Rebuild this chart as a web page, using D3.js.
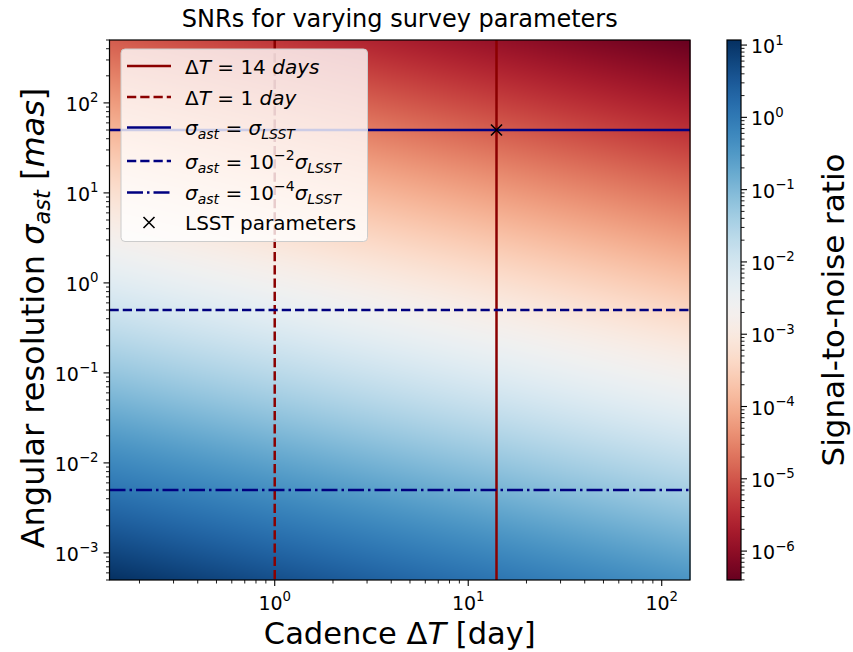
<!DOCTYPE html>
<html><head><meta charset="utf-8">
<script src="https://cdn.jsdelivr.net/npm/d3@7"></script>
<style>
body{margin:0;background:#fff}
svg{display:block}
text{font-family:"DejaVu Sans",sans-serif;white-space:pre;fill:#000}
</style>
</head><body>
<svg id="chart" width="853" height="652"></svg>
<script>
// ---- data ----
const cadenceGrid = [0.14, 0.44, 1.4, 4.4, 14, 44, 140];            // days (columns)
const sigmaGrid = [5e-4, 1.6e-3, 5e-3, 1.6e-2, 5e-2, 0.16, 0.5, 1.6, 5, 16, 50, 160, 500]; // mas (rows)
// log10(SNR) per sigma row (ascending) and cadence column
const logSNR = [
  [1.07, 0.82, 0.57, 0.32, 0.07, -0.18, -0.43],
  [0.57, 0.32, 0.07, -0.18, -0.43, -0.68, -0.93],
  [0.07, -0.18, -0.43, -0.68, -0.93, -1.18, -1.43],
  [-0.43, -0.68, -0.93, -1.18, -1.43, -1.68, -1.93],
  [-0.93, -1.18, -1.43, -1.68, -1.93, -2.18, -2.43],
  [-1.43, -1.68, -1.93, -2.18, -2.43, -2.68, -2.93],
  [-1.93, -2.18, -2.43, -2.68, -2.93, -3.18, -3.43],
  [-2.43, -2.68, -2.93, -3.18, -3.43, -3.68, -3.93],
  [-2.93, -3.18, -3.43, -3.68, -3.93, -4.18, -4.43],
  [-3.43, -3.68, -3.93, -4.18, -4.43, -4.68, -4.93],
  [-3.93, -4.18, -4.43, -4.68, -4.93, -5.18, -5.43],
  [-4.43, -4.68, -4.93, -5.18, -5.43, -5.68, -5.93],
  [-4.93, -5.18, -5.43, -5.68, -5.93, -6.18, -6.40]
];
const cadenceLines = [14, 1];                 // solid, dashed
const sigmaLines = [50, 0.5, 0.005];          // solid, dashed, dash-dot
const lsstPoint = [14, 50];
const xTicks = [1, 10, 100];
const yTicks = [1e-3, 1e-2, 1e-1, 1, 10, 100];
const cTicks = [1e-6, 1e-5, 1e-4, 1e-3, 1e-2, 1e-1, 1, 10];
const xDomain = [0.14, 140];
const yDomain = [5e-4, 500];
const cDomain = [Math.pow(10, -6.4), Math.pow(10, 1.07)];

// ---- layout ----
const svg = d3.select('#chart');
const L = 109.5, R = 690, T = 40, B = 580;
const CB = {x0: 727, x1: 741};
const x = d3.scaleLog().domain(xDomain).range([L, R]);
const y = d3.scaleLog().domain(yDomain).range([B, T]);
const cy = d3.scaleLog().domain(cDomain).range([B, T]);
const color = d3.scaleSequentialLog(d3.interpolateRdBu).domain(cDomain).clamp(true);

// ---- heatmap ----
const W = Math.round(R - L), H = B - T;
const cnv = document.createElement('canvas');
cnv.width = W; cnv.height = H;
const ctx = cnv.getContext('2d');
const img = ctx.createImageData(W, H);
const lx = cadenceGrid.map(Math.log10), ly = sigmaGrid.map(Math.log10);
function locate(arr, v) {
  let i = 0;
  while (i < arr.length - 2 && v > arr[i + 1]) i++;
  let f = (v - arr[i]) / (arr[i + 1] - arr[i]);
  f = Math.max(0, Math.min(1, f));
  return [i, f];
}
for (let py = 0; py < H; py++) {
  const s = Math.log10(y.invert(T + py + 0.5));
  const [j, fy] = locate(ly, s);
  for (let px = 0; px < W; px++) {
    const t = Math.log10(x.invert(L + px + 0.5));
    const [i, fx] = locate(lx, t);
    const v = (1 - fy) * ((1 - fx) * logSNR[j][i] + fx * logSNR[j][i + 1]) +
              fy * ((1 - fx) * logSNR[j + 1][i] + fx * logSNR[j + 1][i + 1]);
    const c = d3.rgb(color(Math.pow(10, v)));
    const k = (py * W + px) * 4;
    img.data[k] = c.r; img.data[k + 1] = c.g; img.data[k + 2] = c.b; img.data[k + 3] = 255;
  }
}
ctx.putImageData(img, 0, 0);
svg.append('image').attr('x', L).attr('y', T).attr('width', W).attr('height', H)
  .attr('preserveAspectRatio', 'none').attr('href', cnv.toDataURL());

// ---- reference lines ----
const lw = 2.5;
const lineG = svg.append('g');
const cadDash = [null, '9.25,4'];
cadenceLines.forEach((d, i) => {
  lineG.append('line').attr('x1', x(d)).attr('x2', x(d)).attr('y1', T).attr('y2', B)
    .attr('stroke', '#8b0000').attr('stroke-width', lw).attr('stroke-dasharray', cadDash[i]);
});
const sigDash = [null, '9.25,4', '16,4,2.5,4'];
sigmaLines.forEach((d, i) => {
  lineG.append('line').attr('x1', L).attr('x2', R).attr('y1', y(d)).attr('y2', y(d))
    .attr('stroke', '#000080').attr('stroke-width', lw).attr('stroke-dasharray', sigDash[i]);
});
function cross(g, cx, cyy, r) {
  g.append('path').attr('d', `M${cx - r},${cyy - r}L${cx + r},${cyy + r}M${cx - r},${cyy + r}L${cx + r},${cyy - r}`)
    .attr('stroke', '#000').attr('stroke-width', 1.6).attr('fill', 'none');
}
cross(lineG, x(lsstPoint[0]), y(lsstPoint[1]), 5.5);

// ---- math text helper ----
function mathText(sel, parts, fs) {
  let cur = 0;
  parts.forEach(p => {
    const shift = p.sup ? -0.45 * fs : p.sub ? 0.2 * fs : 0;
    sel.append('tspan').attr('dy', shift - cur)
      .attr('font-size', (p.sup || p.sub) ? 0.7 * fs : fs)
      .attr('font-style', p.it ? 'italic' : 'normal').text(p.t);
    cur = shift;
  });
  return sel;
}
function expLabel(v) {
  const e = Math.round(Math.log10(v));
  return [{t: '10'}, {t: (e < 0 ? '\u2212' : '') + Math.abs(e), sup: true}];
}
function minorTicks(dom) {
  const out = [];
  const lo = Math.floor(Math.log10(dom[0])), hi = Math.ceil(Math.log10(dom[1]));
  for (let e = lo; e <= hi; e++) for (let m = 2; m <= 9; m++) {
    const v = m * Math.pow(10, e);
    if (v >= dom[0] && v <= dom[1]) out.push(v);
  }
  return out;
}

// ---- axes ----
const axG = svg.append('g').attr('stroke', '#000');
const tfs = 19;
xTicks.forEach(v => {
  axG.append('line').attr('x1', x(v)).attr('x2', x(v)).attr('y1', B).attr('y2', B + 6).attr('stroke-width', 1.1);
  mathText(svg.append('text').attr('x', x(v)).attr('y', B + 30).attr('text-anchor', 'middle'), expLabel(v), tfs);
});
minorTicks(xDomain).forEach(v => {
  axG.append('line').attr('x1', x(v)).attr('x2', x(v)).attr('y1', B).attr('y2', B + 3.5).attr('stroke-width', 0.9);
});
yTicks.forEach(v => {
  axG.append('line').attr('x1', L).attr('x2', L - 6).attr('y1', y(v)).attr('y2', y(v)).attr('stroke-width', 1.1);
  mathText(svg.append('text').attr('x', L - 11).attr('y', y(v) + 8).attr('text-anchor', 'end'), expLabel(v), tfs);
});
minorTicks(yDomain).forEach(v => {
  axG.append('line').attr('x1', L).attr('x2', L - 3.5).attr('y1', y(v)).attr('y2', y(v)).attr('stroke-width', 0.9);
});
svg.append('rect').attr('x', L).attr('y', T).attr('width', R - L).attr('height', B - T)
  .attr('fill', 'none').attr('stroke', '#000').attr('stroke-width', 1.2);

// ---- legend ----
const lg = svg.append('g');
lg.append('rect').attr('x', 121).attr('y', 49).attr('width', 246.5).attr('height', 192.5).attr('rx', 4)
  .attr('fill', '#fff').attr('fill-opacity', 0.8).attr('stroke', '#cccccc').attr('stroke-width', 1);
const lfs = 20;
const legendItems = [
  {y: 66, stroke: '#8b0000', dash: null, parts: [{t: '\u0394'}, {t: 'T', it: true}, {t: ' = 14 '}, {t: 'days', it: true}]},
  {y: 97, stroke: '#8b0000', dash: '9.25,4', parts: [{t: '\u0394'}, {t: 'T', it: true}, {t: ' = 1 '}, {t: 'day', it: true}]},
  {y: 127.5, stroke: '#000080', dash: null, parts: [{t: '\u03c3', it: true}, {t: 'ast', it: true, sub: true}, {t: ' = '}, {t: '\u03c3', it: true}, {t: 'LSST', it: true, sub: true}]},
  {y: 161, stroke: '#000080', dash: '9.25,4', parts: [{t: '\u03c3', it: true}, {t: 'ast', it: true, sub: true}, {t: ' = 10'}, {t: '\u22122', sup: true}, {t: '\u03c3', it: true}, {t: 'LSST', it: true, sub: true}]},
  {y: 192.5, stroke: '#000080', dash: '16,4,2.5,4', parts: [{t: '\u03c3', it: true}, {t: 'ast', it: true, sub: true}, {t: ' = 10'}, {t: '\u22124', sup: true}, {t: '\u03c3', it: true}, {t: 'LSST', it: true, sub: true}]},
  {y: 222.5, marker: true, parts: [{t: 'LSST parameters'}]}
];
legendItems.forEach(it => {
  if (it.marker) cross(lg, 149, it.y, 5.5);
  else lg.append('line').attr('x1', 127).attr('x2', 171).attr('y1', it.y).attr('y2', it.y)
    .attr('stroke', it.stroke).attr('stroke-width', lw).attr('stroke-dasharray', it.dash);
  mathText(lg.append('text').attr('x', 185).attr('y', it.y + 7.5), it.parts, lfs);
});

// ---- colorbar ----
const defs = svg.append('defs');
const grad = defs.append('linearGradient').attr('id', 'cbg').attr('x1', 0).attr('x2', 0).attr('y1', 1).attr('y2', 0);
const lo = Math.log10(cDomain[0]), hi = Math.log10(cDomain[1]);
d3.range(0, 101).forEach(i => {
  grad.append('stop').attr('offset', (i / 100) * 100 + '%')
    .attr('stop-color', color(Math.pow(10, lo + (hi - lo) * i / 100)));
});
svg.append('rect').attr('x', CB.x0).attr('y', T).attr('width', CB.x1 - CB.x0).attr('height', B - T)
  .attr('fill', 'url(#cbg)').attr('stroke', '#000').attr('stroke-width', 1.2);
cTicks.forEach(v => {
  axG.append('line').attr('x1', CB.x1).attr('x2', CB.x1 + 6).attr('y1', cy(v)).attr('y2', cy(v)).attr('stroke-width', 1.1);
  mathText(svg.append('text').attr('x', CB.x1 + 10).attr('y', cy(v) + 8), expLabel(v), tfs);
});
minorTicks(cDomain).forEach(v => {
  axG.append('line').attr('x1', CB.x1).attr('x2', CB.x1 + 3.5).attr('y1', cy(v)).attr('y2', cy(v)).attr('stroke-width', 0.9);
});

// ---- titles ----
svg.append('text').attr('x', (L + R) / 2).attr('y', 27).attr('text-anchor', 'middle').attr('font-size', 24)
  .text('SNRs for varying survey parameters');
mathText(svg.append('text').attr('x', (L + R) / 2).attr('y', 644).attr('text-anchor', 'middle'),
  [{t: 'Cadence \u0394'}, {t: 'T', it: true}, {t: ' [day]'}], 30.5);
mathText(svg.append('text').attr('transform', `translate(44,${(T + B) / 2 + 8}) rotate(-90)`).attr('text-anchor', 'middle'),
  [{t: 'Angular resolution '}, {t: '\u03c3', it: true}, {t: 'ast', it: true, sub: true}, {t: ' ['}, {t: 'mas', it: true}, {t: ']'}], 32);
svg.append('text').attr('transform', `translate(844,${(T + B) / 2}) rotate(-90)`).attr('text-anchor', 'middle')
  .attr('font-size', 31).text('Signal-to-noise ratio');
</script>
</body></html>
